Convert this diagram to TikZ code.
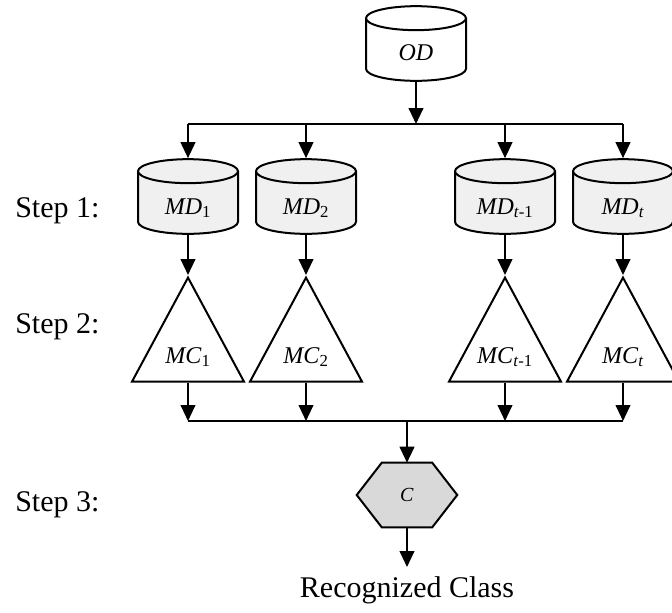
\documentclass[tikz,border=0pt]{standalone}
\usepackage{fontspec}
\setmainfont{Liberation Serif}
\usetikzlibrary{shapes.geometric,arrows.meta,backgrounds,calc}
\begin{document}
\begin{tikzpicture}[x=0.75pt,y=-0.75pt,
  ln/.style={line width=1.5pt},
  arr/.style={ln,-{Triangle[length=12pt,width=11pt]}},
  db/.style={cylinder,shape border rotate=90,aspect=0.3,draw,ln,text width=60pt,align=center,
    minimum width=75pt,minimum height=56pt,inner sep=0pt},
  dblab/.style={font=\fontsize{18}{21}\selectfont,yshift=-4pt},
  tri/.style={isosceles triangle,shape border rotate=90,isosceles triangle stretches,
    draw,ln,fill=white,minimum width=84pt,minimum height=78pt,inner sep=0pt,anchor=apex},
  mclab/.style={font=\fontsize{18}{21}\selectfont},
  steplab/.style={anchor=base west,font=\fontsize{22.5}{26}\selectfont,inner sep=0pt},
  hexbox/.style={minimum width=75pt,minimum height=48pt,inner sep=0pt,font=\fontsize{15}{18}\selectfont}
]
\useasboundingbox (0,0) rectangle (672,612);

% cylinders
\node[db,fill=white,label={[dblab,yshift=2pt]center:\textit{OD}}] (OD) at (416,50) {};
\node[db,fill=black!6,label={[dblab]center:\textit{MD}\textsubscript{1}}] (MD1) at (188,203) {};
\node[db,fill=black!6,label={[dblab]center:\textit{MD}\textsubscript{2}}] (MD2) at (306,203) {};
\node[db,fill=black!6,label={[dblab]center:\textit{MD}\textsubscript{\textit{t}-1}}] (MD3) at (505,203) {};
\node[db,fill=black!6,label={[dblab]center:\textit{MD}\textsubscript{\textit{t}}}] (MD4) at (623,203) {};

% triangles
\node[tri] (MC1) at (188,275) {};
\node[tri] (MC2) at (306,275) {};
\node[tri] (MC3) at (505,275) {};
\node[tri] (MC4) at (623,275) {};
\node[mclab] (L1) at (188,357) {\textit{MC}\textsubscript{1}};
\node[mclab] (L2) at (306,357) {\textit{MC}\textsubscript{2}};
\node[mclab] (L3) at (505,357) {\textit{MC}\textsubscript{\textit{t}-1}};
\node[mclab] (L4) at (623,357) {\textit{MC}\textsubscript{\textit{t}}};

% hexagon
\node[hexbox] (C) at (407,495) {\textit{C}};
\begin{scope}[on background layer]
\draw[ln,fill=black!15,line join=miter] (C.west) -- ([xshift=18.75pt]C.north west) -- ([xshift=-18.75pt]C.north east)
  -- (C.east) -- ([xshift=-18.75pt]C.south east) -- ([xshift=18.75pt]C.south west) -- cycle;
\end{scope}

% step labels
\node[steplab] (S1) at (15,217) {Step 1:};
\node[steplab] (S2) at (15,333) {Step 2:};
\node[steplab] (S3) at (15,511) {Step 3:};

\node[anchor=base,font=\fontsize{22.5}{26}\selectfont,inner sep=0pt] (RC) at (407,597) {Recognized Class};

% connectors
\coordinate (sp) at (416,124);
\coordinate (jn) at (407,421);
\draw[arr] (OD.south) -- (sp);
\draw[ln] (MD1.north |- sp) -- (MD4.north |- sp);
\foreach \n in {MD1,MD2,MD3,MD4}{\draw[arr] (\n.north |- sp) -- (\n.north);}
\draw[arr] (MD1.south) -- (MC1.apex);
\draw[arr] (MD2.south) -- (MC2.apex);
\draw[arr] (MD3.south) -- (MC3.apex);
\draw[arr] (MD4.south) -- (MC4.apex);
\draw[ln] (MC1.apex |- jn) -- (MC4.apex |- jn);
\foreach \n in {MC1,MC2,MC3,MC4}{\draw[arr] (\n.apex |- MC1.left corner) -- (\n.apex |- jn);}
\draw[arr] (jn) -- (C.north);
\draw[arr] (C.south) -- (RC.north |- 0,567);
\end{tikzpicture}
\end{document}
